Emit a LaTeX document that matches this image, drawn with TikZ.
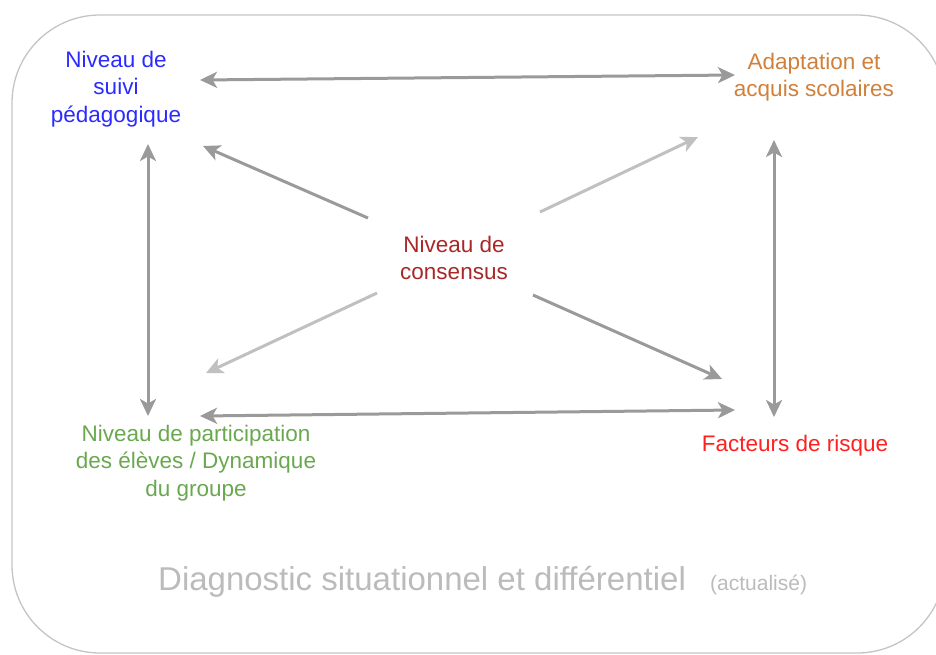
\documentclass[tikz,border=0pt]{standalone}
\usepackage{fontspec}
\setmainfont{Liberation Sans}
\usetikzlibrary{arrows.meta}

\definecolor{bleuSuivi}{HTML}{2B2BFF}
\definecolor{orangeAdapt}{HTML}{D0803A}
\definecolor{rougeConsensus}{HTML}{A82828}
\definecolor{vertGroupe}{HTML}{6AA84F}
\definecolor{rougeRisque}{HTML}{FF2020}
\definecolor{grisFleche}{HTML}{9A9A9A}
\definecolor{grisClair}{HTML}{C0C0C0}
\definecolor{grisTitre}{HTML}{BBBBBB}
\definecolor{grisCadre}{HTML}{C4C4C4}

\tikzset{
  etiquette/.style={align=center, inner sep=0pt, font=\fontsize{22.5}{27.5}\selectfont},
  fleche/.style={line width=3pt, color=grisFleche, -{Stealth[length=17pt,width=16pt,inset=4.5pt]}},
  flecheClaire/.style={fleche, color=grisClair},
  doubleFleche/.style={line width=3pt, color=grisFleche,
    {Stealth[length=17pt,width=16pt,inset=4.5pt]}-{Stealth[length=17pt,width=16pt,inset=4.5pt]}}
}

\begin{document}
\begin{tikzpicture}[x=1pt, y=-1pt]
\useasboundingbox (0,0) rectangle (936,654);

% Cadre arrondi
\draw[grisCadre, line width=1.3pt, rounded corners=88pt] (12,15) rectangle (945,653);

% Les cinq niveaux
\node[etiquette, text=bleuSuivi] (suivi) at (116,89) {Niveau de\\suivi\\pédagogique};
\node[etiquette, text=orangeAdapt] (adapt) at (814,77) {Adaptation et\\acquis scolaires};
\node[etiquette, text=rougeConsensus] (consensus) at (454,258) {Niveau de\\consensus};
\node[etiquette, text=vertGroupe] (groupe) at (196,463) {Niveau de participation\\des élèves / Dynamique\\du groupe};
\node[etiquette, text=rougeRisque] (risque) at (795,446) {Facteurs de risque};

% Bouts des flèches
\coordinate (suivi-e) at (200,80);
\coordinate (adapt-w) at (735,75);
\coordinate (suivi-s) at (148,144);
\coordinate (groupe-n) at (148,416);
\coordinate (adapt-s) at (774,140);
\coordinate (risque-n) at (774,417);
\coordinate (groupe-e) at (200,416);
\coordinate (risque-w) at (735,410);
\coordinate (cons-nw) at (368,218);
\coordinate (suivi-se) at (203,146);
\coordinate (cons-ne) at (540,212);
\coordinate (adapt-sw) at (698,137);
\coordinate (cons-sw) at (377,293);
\coordinate (groupe-ne) at (206,373);
\coordinate (cons-se) at (533,295);
\coordinate (risque-nw) at (722,379);

% Flèches du pourtour
\draw[doubleFleche] (suivi-e) -- (adapt-w);
\draw[doubleFleche] (suivi-s) -- (groupe-n);
\draw[doubleFleche] (adapt-s) -- (risque-n);
\draw[doubleFleche] (groupe-e) -- (risque-w);

% Flèches depuis le consensus
\draw[fleche] (cons-nw) -- (suivi-se);
\draw[flecheClaire] (cons-ne) -- (adapt-sw);
\draw[flecheClaire] (cons-sw) -- (groupe-ne);
\draw[fleche] (cons-se) -- (risque-nw);

% Titre
\node[anchor=base west, inner sep=0pt, text=grisTitre, font=\fontsize{33}{36}\selectfont] (titre) at (158,590) {Diagnostic situationnel et différentiel};
\node[anchor=base west, inner sep=0pt, text=grisTitre, font=\fontsize{21}{24}\selectfont] (actualise) at (710,590) {(actualisé)};

\end{tikzpicture}
\end{document}
